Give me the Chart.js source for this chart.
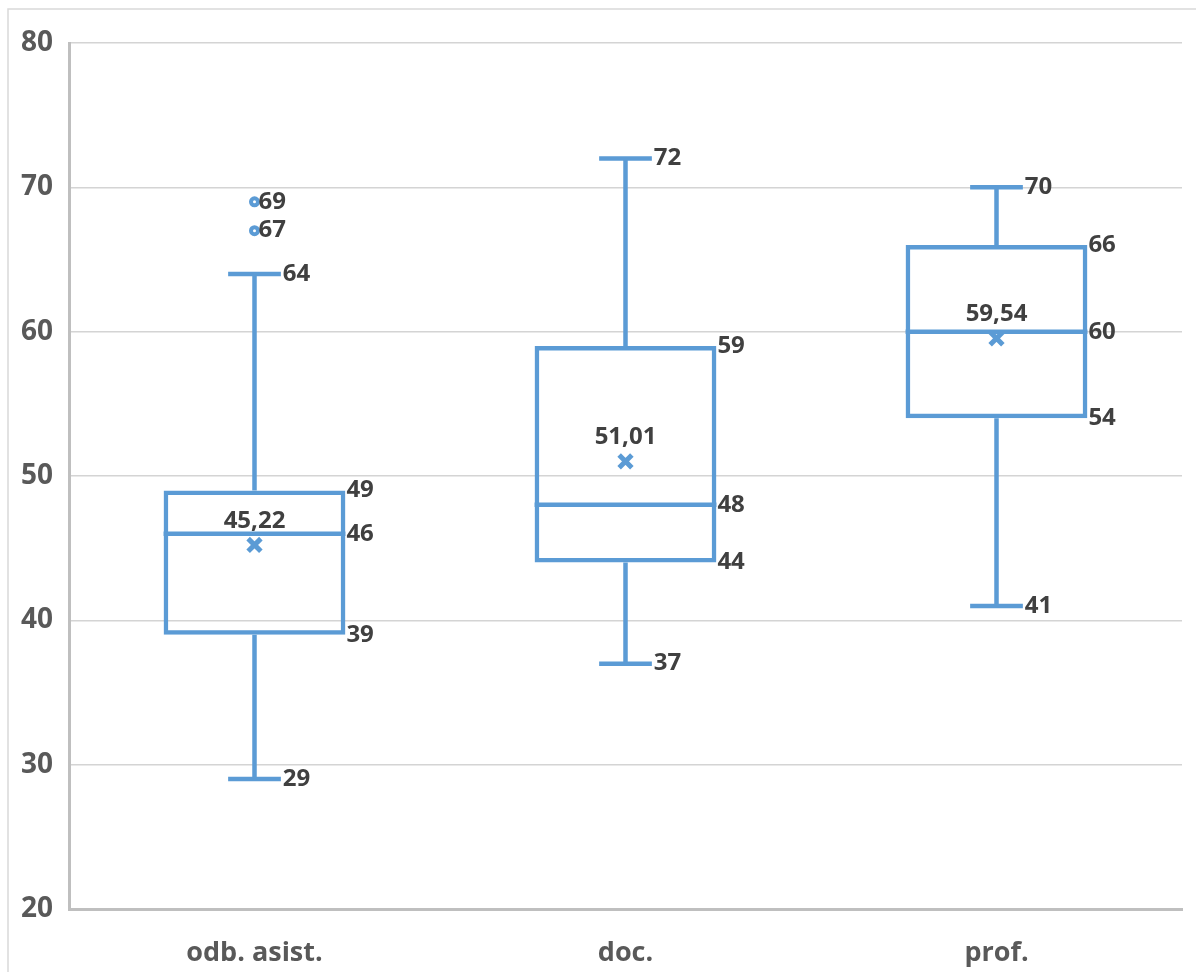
<!DOCTYPE html>
<html>
<head>
<meta charset="utf-8">
<script src="https://cdn.jsdelivr.net/npm/chart.js@4.4.1/dist/chart.umd.min.js"></script>
<style>
  html, body { margin: 0; padding: 0; background: #ffffff; }
  #wrap { width: 1196px; height: 972px; }
</style>
</head>
<body>
<div id="wrap"><canvas id="boxChart" width="1196" height="972"></canvas></div>
<script>
// Box plot data
const categories = ['odb. asist.', 'doc.', 'prof.'];
const minValues = [29, 37, 41];
const q1Values = [39, 44, 54];
const medianValues = [46, 48, 60];
const q3Values = [49, 59, 66];
const maxValues = [64, 72, 70];
const meanValues = [45.22, 51.01, 59.54];
const outlierCats = ['odb. asist.', 'odb. asist.'];
const outlierValues = [69, 67];
const yTicks = [20, 30, 40, 50, 60, 70, 80];

const BLUE = '#5b9bd5';
const LABEL_FONT = 'bold 24px "Open Sans", sans-serif';
const LABEL_COLOR = '#404040';

// Whiskers, caps and median lines, drawn with the chart's own scales
const boxParts = {
    id: 'boxParts',
    beforeDatasetsDraw(chart) {
        const ctx = chart.ctx;
        const y = chart.scales.y;
        const bars = chart.getDatasetMeta(0).data;
        ctx.save();
        ctx.strokeStyle = BLUE;
        ctx.lineWidth = 4.5;
        bars.forEach((bar, i) => {
            const cx = bar.x;
            const capHalf = bar.width * 0.145;
            ctx.beginPath();
            ctx.moveTo(cx, y.getPixelForValue(q3Values[i]));
            ctx.lineTo(cx, y.getPixelForValue(maxValues[i]));
            ctx.moveTo(cx - capHalf, y.getPixelForValue(maxValues[i]));
            ctx.lineTo(cx + capHalf, y.getPixelForValue(maxValues[i]));
            ctx.moveTo(cx, y.getPixelForValue(q1Values[i]));
            ctx.lineTo(cx, y.getPixelForValue(minValues[i]));
            ctx.moveTo(cx - capHalf, y.getPixelForValue(minValues[i]));
            ctx.lineTo(cx + capHalf, y.getPixelForValue(minValues[i]));
            ctx.stroke();
        });
        ctx.restore();
    },
    afterDatasetsDraw(chart) {
        const ctx = chart.ctx;
        const y = chart.scales.y;
        const bars = chart.getDatasetMeta(0).data;
        ctx.save();
        // median line
        ctx.strokeStyle = BLUE;
        ctx.lineWidth = 4.5;
        bars.forEach((bar, i) => {
            const my = y.getPixelForValue(medianValues[i]);
            ctx.beginPath();
            ctx.moveTo(bar.x - bar.width / 2, my);
            ctx.lineTo(bar.x + bar.width / 2, my);
            ctx.stroke();
        });
        // value labels
        ctx.font = LABEL_FONT;
        ctx.fillStyle = LABEL_COLOR;
        ctx.textBaseline = 'middle';
        bars.forEach((bar, i) => {
            const right = bar.x + bar.width / 2 + 1;
            const capRight = bar.x + bar.width * 0.145 + 2;
            ctx.textAlign = 'left';
            ctx.fillText(q3Values[i], right, y.getPixelForValue(q3Values[i]));
            ctx.fillText(medianValues[i], right, y.getPixelForValue(medianValues[i]));
            ctx.fillText(q1Values[i], right, y.getPixelForValue(q1Values[i]));
            ctx.fillText(maxValues[i], capRight, y.getPixelForValue(maxValues[i]));
            ctx.fillText(minValues[i], capRight, y.getPixelForValue(minValues[i]));
            ctx.textAlign = 'center';
            ctx.fillText(meanValues[i].toFixed(2).replace('.', ','), bar.x, y.getPixelForValue(meanValues[i]) - 24);
        });
        ctx.textAlign = 'left';
        outlierValues.forEach((v, k) => {
            const cx = chart.scales.x.getPixelForValue(categories.indexOf(outlierCats[k]));
            ctx.fillText(v, cx + 4, y.getPixelForValue(v));
        });
        ctx.restore();
    }
};

// Thin frame on the top and left of the picture
const frame = {
    id: 'frame',
    afterDraw(chart) {
        const ctx = chart.ctx;
        ctx.save();
        ctx.strokeStyle = '#d9d9d9';
        ctx.lineWidth = 1.5;
        ctx.beginPath();
        ctx.moveTo(8, 972);
        ctx.lineTo(8, 9);
        ctx.lineTo(1196, 9);
        ctx.stroke();
        ctx.restore();
    }
};

const ctx = document.getElementById('boxChart').getContext('2d');
const boxChart = new Chart(ctx, {
    data: {
        labels: categories,
        datasets: [
            {
                type: 'bar',
                label: 'box',
                data: categories.map((c, i) => [q1Values[i], q3Values[i]]),
                backgroundColor: 'rgba(255,255,255,0)',
                borderColor: BLUE,
                borderWidth: 4.5,
                borderSkipped: false,
                barPercentage: 0.49,
                categoryPercentage: 1,
                order: 2
            },
            {
                type: 'line',
                label: 'mean',
                data: meanValues,
                showLine: false,
                pointStyle: 'crossRot',
                pointRadius: 9,
                pointBorderWidth: 5,
                borderColor: BLUE,
                backgroundColor: BLUE,
                order: 1
            },
            {
                type: 'line',
                label: 'outliers',
                data: outlierCats.map((c, k) => ({ x: c, y: outlierValues[k] })),
                showLine: false,
                pointStyle: 'circle',
                pointRadius: 3.5,
                pointBorderWidth: 4,
                borderColor: BLUE,
                backgroundColor: '#ffffff',
                order: 1
            }
        ]
    },
    options: {
        responsive: false,
        devicePixelRatio: 1,
        animation: false,
        layout: { padding: { top: 43, right: 12, bottom: 0, left: 8 } },
        plugins: {
            legend: { display: false },
            tooltip: { enabled: false }
        },
        scales: {
            x: {
                grid: { display: false },
                border: { color: '#bfbfbf', width: 3 },
                ticks: {
                    color: '#595959',
                    font: { family: '"Open Sans", sans-serif', size: 27, weight: 'bold' },
                    padding: 20
                },
                afterFit: s => { s.height = 63; }
            },
            y: {
                min: 20,
                max: 80,
                afterBuildTicks: s => { s.ticks = yTicks.map(v => ({ value: v })); },
                grid: { color: '#d4d4d4', lineWidth: 1.5, drawTicks: false },
                border: { color: '#bfbfbf', width: 3 },
                ticks: {
                    color: '#595959',
                    font: { family: '"Open Sans", sans-serif', size: 28, weight: 'bold' },
                    padding: 16
                },
                afterFit: s => { s.width = 61; }
            }
        }
    },
    plugins: [boxParts, frame]
});
</script>
</body>
</html>
